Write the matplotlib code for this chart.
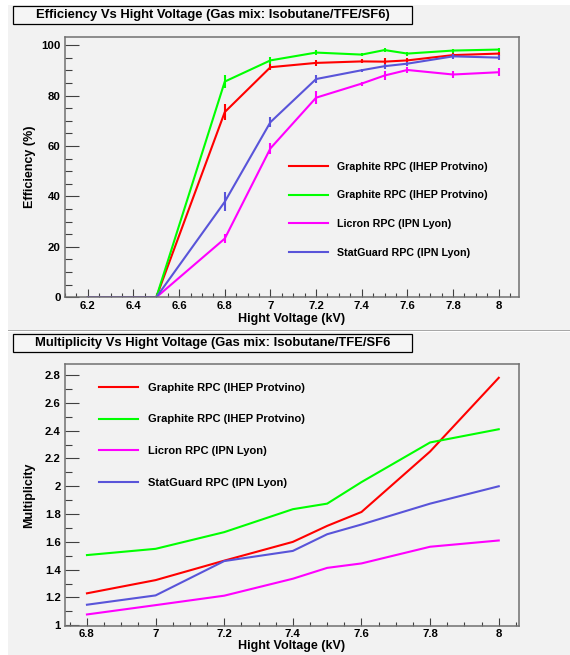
import numpy as np
import matplotlib
matplotlib.use('Agg')
import matplotlib.pyplot as plt
from matplotlib.patches import Rectangle
from matplotlib.ticker import MultipleLocator, FormatStrFormatter

plt.rcParams['font.family'] = ['Liberation Sans', 'DejaVu Sans']
plt.rcParams['font.weight'] = 'bold'

# efficiency vs high voltage
eff_hv = [6.2, 6.5, 6.8, 7.0, 7.2, 7.4, 7.5, 7.6, 7.8, 8.0]
eff_ihep1 = [0, 0, 73.5, 91.3, 93.0, 93.6, 93.5, 94.0, 96.1, 96.7]
eff_ihep1_err = [0, 0, 3.3, 1.1, 1.3, 0.8, 1.3, 0.8, 0.8, 0.8]
eff_ihep2 = [0, 0, 85.6, 94.0, 97.1, 96.3, 98.1, 96.7, 97.9, 98.3]
eff_ihep2_err = [0, 0, 2.7, 1.4, 1.0, 0.6, 0.8, 0.8, 0.8, 0.8]
eff_licron = [0, 0, 23.3, 59.1, 79.2, 84.8, 88.0, 90.2, 88.4, 89.3]
eff_licron_err = [0, 0, 1.9, 2.3, 2.7, 0.8, 1.8, 1.2, 1.5, 1.5]
eff_statguard = [0, 0, 37.9, 69.5, 86.6, 90.1, 91.7, 92.7, 95.6, 95.1]
eff_statguard_err = [0, 0, 3.7, 2.1, 1.5, 0.6, 1.0, 0.8, 1.0, 1.0]

# multiplicity vs high voltage
mul_hv = [6.8, 7.0, 7.2, 7.4, 7.5, 7.6, 7.8, 8.0]
mul_ihep1 = [1.23, 1.325, 1.465, 1.60, 1.715, 1.815, 2.25, 2.78]
mul_ihep2 = [1.505, 1.55, 1.67, 1.835, 1.875, 2.03, 2.315, 2.41]
mul_licron = [1.078, 1.145, 1.213, 1.335, 1.413, 1.445, 1.565, 1.61]
mul_statguard = [1.148, 1.215, 1.462, 1.535, 1.655, 1.725, 1.875, 2.0]

labels = ['Graphite RPC (IHEP Protvino)', 'Graphite RPC (IHEP Protvino)',
          'Licron RPC (IPN Lyon)', 'StatGuard RPC (IPN Lyon)']
colors = ['#ff0000', '#00ff00', '#ff00ff', '#5954d9']

W, H = 570.0, 655.0
bg = '#f2f2f2'
fig = plt.figure(figsize=(W / 100, H / 100), dpi=100)
fig.patch.set_facecolor('white')

def px_rect(x0, y0, x1, y1, **kw):
    # rectangle given in image pixels (y from top)
    r = Rectangle((x0 / W, 1 - y1 / H), (x1 - x0) / W, (y1 - y0) / H,
                  transform=fig.transFigure, **kw)
    fig.patches.append(r)

# pads (behind the axes)
px_rect(8, 5, 570, 329.5, facecolor=bg, edgecolor='none', zorder=-10)
px_rect(8, 329.5, 570, 330.5, facecolor='#a8a8a8', edgecolor='none', zorder=-10)
px_rect(8, 332, 570, 655, facecolor=bg, edgecolor='none', zorder=-10)

# title boxes
px_rect(13, 6, 412, 23.5, facecolor='#f5f5f5', edgecolor='black', linewidth=0.9)
px_rect(13, 333.5, 412, 352, facecolor='#f5f5f5', edgecolor='black', linewidth=0.9)
fig.text(212.5 / W, 1 - 14.8 / H, 'Efficiency Vs Hight Voltage (Gas mix: Isobutane/TFE/SF6)',
         ha='center', va='center', fontsize=9.4, fontweight='bold')
fig.text(212.5 / W, 1 - 342.8 / H, 'Multiplicity Vs Hight Voltage (Gas mix: Isobutane/TFE/SF6',
         ha='center', va='center', fontsize=9.4, fontweight='bold')

ax1 = fig.add_axes([65 / W, 1 - 297.3 / H, 454 / W, 260.6 / H])
ax2 = fig.add_axes([65 / W, 1 - 626 / H, 454 / W, 261.7 / H])

def style_axes(ax):
    ax.set_facecolor(bg)
    for s in ax.spines.values():
        s.set_color('#707070')
        s.set_linewidth(1.1)
    ax.tick_params(which='both', direction='in', colors='#404040', labelcolor='black',
                   labelsize=8.2, width=0.8)
    ax.tick_params(axis='x', which='major', length=5.6, pad=2.5)
    ax.tick_params(axis='x', which='minor', length=2.8)
    ax.tick_params(axis='y', which='major', length=9.8, pad=3)
    ax.tick_params(axis='y', which='minor', length=4.9)
    for t in ax.get_xticklabels() + ax.get_yticklabels():
        t.set_fontweight('bold')

# efficiency panel
for y, e, c, lab in zip([eff_ihep1, eff_ihep2, eff_licron, eff_statguard],
                        [eff_ihep1_err, eff_ihep2_err, eff_licron_err, eff_statguard_err],
                        colors, labels):
    ax1.plot(eff_hv, y, color=c, linewidth=1.5, label=lab)
    ax1.errorbar(eff_hv, y, yerr=e, fmt='none', ecolor=c, elinewidth=1.5, capsize=0)
ax1.set_xlim(6.1, 8.089)
ax1.set_ylim(0, 103.4)
ax1.xaxis.set_major_locator(MultipleLocator(0.2))
ax1.xaxis.set_minor_locator(MultipleLocator(0.05))
ax1.xaxis.set_major_formatter(FormatStrFormatter('%g'))
ax1.yaxis.set_major_locator(MultipleLocator(20))
ax1.yaxis.set_minor_locator(MultipleLocator(5))
style_axes(ax1)
ax1.set_xlabel('Hight Voltage (kV)', fontsize=9, fontweight='bold')
ax1.set_ylabel('Efficiency (%)', fontsize=9, fontweight='bold')
ax1.xaxis.set_label_coords(0.5, -0.06)
ax1.yaxis.set_label_coords(-0.064, 0.5)
ax1.legend(loc='upper left', bbox_to_anchor=(0.493, 0.52), frameon=False,
           handlelength=3.7, handletextpad=0.85, labelspacing=1.75,
           borderpad=0, borderaxespad=0, prop={'weight': 'bold', 'size': 7.65})

# multiplicity panel
for y, c, lab in zip([mul_ihep1, mul_ihep2, mul_licron, mul_statguard], colors, labels):
    ax2.plot(mul_hv, y, color=c, linewidth=1.5, label=lab)
ax2.set_xlim(6.736, 8.059)
ax2.set_ylim(0.995, 2.877)
ax2.xaxis.set_major_locator(MultipleLocator(0.2))
ax2.xaxis.set_minor_locator(MultipleLocator(0.05))
ax2.xaxis.set_major_formatter(FormatStrFormatter('%g'))
ax2.yaxis.set_major_locator(MultipleLocator(0.2))
ax2.yaxis.set_minor_locator(MultipleLocator(0.1))
ax2.yaxis.set_major_formatter(FormatStrFormatter('%g'))
style_axes(ax2)
ax2.set_xlabel('Hight Voltage (kV)', fontsize=9, fontweight='bold')
ax2.set_ylabel('Multiplicity', fontsize=9, fontweight='bold')
ax2.xaxis.set_label_coords(0.5, -0.055)
ax2.yaxis.set_label_coords(-0.066, 0.5)
ax2.legend(loc='upper left', bbox_to_anchor=(0.075, 0.93), frameon=False,
           handlelength=3.5, handletextpad=0.85, labelspacing=1.95,
           borderpad=0, borderaxespad=0, prop={'weight': 'bold', 'size': 8.05})

fig.savefig('out.png', dpi=100, facecolor='white')
